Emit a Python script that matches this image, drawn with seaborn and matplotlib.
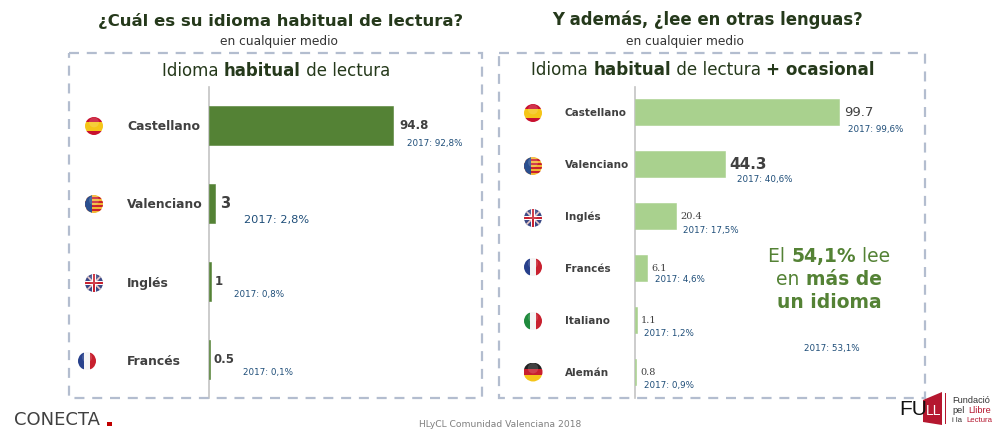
import matplotlib
matplotlib.use('Agg')
import matplotlib.pyplot as plt
from matplotlib.patches import Circle, Polygon, Rectangle
import pandas as pd
import seaborn as sns

# datos
idiomas_hab = ['Castellano', 'Valenciano', 'Inglés', 'Francés']
valores_hab = [94.8, 3, 1, 0.5]
etiq_hab = ['94.8', '3', '1', '0.5']
notas_hab = ['2017: 92,8%', '2017: 2,8%', '2017: 0,8%', '2017: 0,1%']

idiomas_oca = ['Castellano', 'Valenciano', 'Inglés', 'Francés', 'Italiano', 'Alemán']
valores_oca = [99.7, 44.3, 20.4, 6.1, 1.1, 0.8]
etiq_oca = ['99.7', '44.3', '20.4', '6.1', '1.1', '0.8']
notas_oca = ['2017: 99,6%', '2017: 40,6%', '2017: 17,5%', '2017: 4,6%', '2017: 1,2%', '2017: 0,9%']

W, H = 1001, 436
PT = 0.72  # puntos por pixel a dpi 100

VERDE = '#548235'
VERDE_CLARO = '#a9d18e'
TITULO = '#25391b'
GRIS = '#404040'
AZUL = '#1f4e79'
BORDE = '#b3bdcf'
ROJO = '#b5172f'

# ajustes de las etiquetas (dx valor, tamaño, peso, familia, dx nota, dy nota, tamaño nota)
est_hab = [
    (6, 8.5, 'bold', 'DejaVu Sans', 8, 18, 6.3),
    (5, 10.5, 'bold', 'DejaVu Sans', 24, 16, 8.2),
    (4, 8.5, 'bold', 'DejaVu Sans', 19, 13, 6.3),
    (4, 8.5, 'bold', 'DejaVu Sans', 29, 13, 6.3),
]
est_oca = [
    (5, 9.5, 'normal', 'DejaVu Sans', 4, 17, 6.3),
    (4, 11, 'bold', 'DejaVu Sans', 8, 15, 6.3),
    (4, 7, 'normal', 'DejaVu Serif', 3, 14, 6.3),
    (4, 7, 'normal', 'DejaVu Serif', 4, 11, 6.3),
    (4, 7, 'normal', 'DejaVu Serif', 3, 13, 6.3),
    (4, 7, 'normal', 'DejaVu Serif', 4, 13, 6.3),
]

sns.set_theme(style='white')
plt.rcParams['font.family'] = 'DejaVu Sans'

fig = plt.figure(figsize=(W / 100, H / 100), dpi=100, facecolor='white')


def panel(x0, x1, y0, y1):
    return fig.add_axes([x0 / W, 1 - y1 / H, (x1 - x0) / W, (y1 - y0) / H])


def barras(ax, idiomas, valores, etiq, notas, estilos, color, px_unidad, y_cero, paso, pad_px, tam_cat):
    df = pd.DataFrame({'idioma': idiomas, 'valor': valores})
    sns.barplot(data=df, x='valor', y='idioma', ax=ax, color=color, saturation=1, width=0.5)
    for b in ax.patches:
        b.set_edgecolor(color)
        b.set_linewidth(0.4)
    bbox = ax.get_position()
    ancho_px = bbox.width * W
    alto_px = bbox.height * H
    ax.set_xlim(0, ancho_px / px_unidad)
    ax.set_ylim((alto_px - y_cero) / paso, -y_cero / paso)
    ax.set_xlabel('')
    ax.set_ylabel('')
    ax.set_xticks([])
    ax.patch.set_alpha(0)
    for lado in ['top', 'right', 'bottom']:
        ax.spines[lado].set_visible(False)
    ax.spines['left'].set_color('#c4c4c4')
    ax.spines['left'].set_linewidth(1.2)
    ax.spines['left'].set_zorder(0.5)
    ax.tick_params(axis='y', length=0, pad=pad_px * PT)
    for lab in ax.get_yticklabels():
        lab.set_ha('left')
        lab.set_fontweight('bold')
        lab.set_fontsize(tam_cat)
        lab.set_color(GRIS)
    for i, (v, t, n, e) in enumerate(zip(valores, etiq, notas, estilos)):
        dx, tam, peso, fam, ndx, ndy, ntam = e
        ax.annotate(t, xy=(v, i), xytext=(dx * PT, 0), textcoords='offset points',
                    va='center', ha='left', fontsize=tam, fontweight=peso, family=fam, color=GRIS)
        ax.annotate(n, xy=(v, i), xytext=((dx + ndx) * PT, -ndy * PT), textcoords='offset points',
                    va='center', ha='left', fontsize=ntam, color=AZUL)


ax1 = panel(209, 480, 87, 398)
barras(ax1, idiomas_hab, valores_hab, etiq_hab, notas_hab, est_hab, VERDE, 184 / 94.8, 38.5, 78, 82, 8.9)

ax2 = panel(634.5, 900, 87, 398)
barras(ax2, idiomas_oca, valores_oca, etiq_oca, notas_oca, est_oca, VERDE_CLARO, 204.5 / 99.7, 25, 52, 70, 7.5)

# capa en pixeles para marcos, titulos, banderas y logos
ov = fig.add_axes([0, 0, 1, 1], zorder=5)
ov.set_xlim(0, W)
ov.set_ylim(H, 0)
ov.axis('off')


def trozos(xc, y, partes, size, color):
    # texto centrado con partes normales y en negrita
    r = fig.canvas.get_renderer()
    objs = [ov.text(0, y, t, fontsize=size, fontweight=p, color=color, va='center', ha='left')
            for t, p in partes]
    anchos = [o.get_window_extent(r).width for o in objs]
    x = xc - sum(anchos) / 2
    for o, a in zip(objs, anchos):
        o.set_x(x)
        x += a


for x, w in [(69, 413), (499, 426)]:
    ov.add_patch(Rectangle((x, 53), w, 345, fill=False, ec=BORDE, lw=1.6, ls=(0, (4.5, 3.5))))

ov.text(280.5, 21, '¿Cuál es su idioma habitual de lectura?', ha='center', va='center',
        fontsize=11.85, fontweight='bold', color=TITULO)
ov.text(708, 20, 'Y además, ¿lee en otras lenguas?', ha='center', va='center',
        fontsize=11.9, fontweight='bold', color=TITULO)
ov.text(278.5, 41, 'en cualquier medio', ha='center', va='center', fontsize=8.8, color='#333333')
ov.text(685.5, 41, 'en cualquier medio', ha='center', va='center', fontsize=8.8, color='#333333')

trozos(276, 71, [('Idioma ', 'normal'), ('habitual', 'bold'), (' de lectura', 'normal')], 12, TITULO)
trozos(703, 70, [('Idioma ', 'normal'), ('habitual', 'bold'), (' de lectura ', 'normal'), ('+ ocasional', 'bold')], 12.1, TITULO)

trozos(829, 256, [('El ', 'normal'), ('54,1%', 'bold'), (' lee', 'normal')], 13.5, VERDE)
trozos(829, 279, [('en ', 'normal'), ('más de', 'bold')], 13.5, VERDE)
ov.text(829, 302, 'un idioma', ha='center', va='center', fontsize=13.5, fontweight='bold', color=VERDE)
ov.text(832, 348, '2017: 53,1%', ha='center', va='center', fontsize=6.3, color=AZUL)


def bandera(cx, cy, r, tipo):
    clip = Circle((cx, cy), r, transform=ov.transData)
    piezas = []
    if tipo == 'es':
        piezas = [((cx - r, cy - r), 2 * r, r * 0.6, '#c8102e'), ((cx - r, cy - r * 0.45), 2 * r, r, '#f5c518'),
                  ((cx - r, cy + r * 0.55), 2 * r, r * 0.5, '#c8102e')]
    elif tipo == 'va':
        piezas = [((cx - r, cy - r), 2 * r, 2 * r, '#f2b632')]
        for k in range(4):
            piezas.append(((cx - r, cy - r + (k * 2 + 1) * r / 4.5), 2 * r, r / 4.5, '#c8202e'))
        piezas.append(((cx - r, cy - r), r * 0.8, 2 * r, '#2a4f8f'))
    elif tipo == 'uk':
        piezas = [((cx - r, cy - r), 2 * r, 2 * r, '#3b4a86')]
    elif tipo == 'fr':
        piezas = [((cx - r, cy - r), 2 * r / 3, 2 * r, '#27408b'), ((cx - r / 3, cy - r), 2 * r / 3, 2 * r, '#f4f4f4'),
                  ((cx + r / 3, cy - r), 2 * r / 3, 2 * r, '#c8202e')]
    elif tipo == 'it':
        piezas = [((cx - r, cy - r), 2 * r / 3, 2 * r, '#1f8a3d'), ((cx - r / 3, cy - r), 2 * r / 3, 2 * r, '#f4f4f4'),
                  ((cx + r / 3, cy - r), 2 * r / 3, 2 * r, '#c8202e')]
    elif tipo == 'de':
        piezas = [((cx - r, cy - r), 2 * r, 2 * r / 3, '#222222'), ((cx - r, cy - r / 3), 2 * r, 2 * r / 3, '#c8202e'),
                  ((cx - r, cy + r / 3), 2 * r, 2 * r / 3, '#f5c518')]
    for xy, w, h, c in piezas:
        p = Rectangle(xy, w, h, fc=c, ec='none')
        ov.add_patch(p)
        p.set_clip_path(clip)
    if tipo == 'uk':
        for s in (1, -1):
            l, = ov.plot([cx - r, cx + r], [cy - s * r, cy + s * r], color='#e8c8c8', lw=1.2)
            l.set_clip_path(clip)
        for xy, w, h, c in [((cx - r, cy - 1.8), 2 * r, 3.6, 'white'), ((cx - 1.8, cy - r), 3.6, 2 * r, 'white'),
                            ((cx - r, cy - 0.9), 2 * r, 1.8, '#c8202e'), ((cx - 0.9, cy - r), 1.8, 2 * r, '#c8202e')]:
            p = Rectangle(xy, w, h, fc=c, ec='none', zorder=2)
            ov.add_patch(p)
            p.set_clip_path(clip)
    ov.add_patch(Circle((cx, cy - r * 0.4), r * 0.55, fc='white', ec='none', alpha=0.15, zorder=3))


for cx, cy, r, t in [(94, 126, 9, 'es'), (94, 204, 9, 'va'), (94, 283, 9, 'uk'), (87, 361, 9, 'fr'),
                     (533, 113, 9, 'es'), (533, 166, 9, 'va'), (533, 218, 9, 'uk'), (533, 267, 9, 'fr'),
                     (533, 321, 9, 'it'), (533, 372, 9.5, 'de')]:
    bandera(cx, cy, r, t)

# pie y logos
ov.text(500.5, 424, 'HLyCL Comunidad Valenciana 2018', ha='center', va='center', fontsize=6.6, color='#7f7f7f')
ov.text(14, 420, 'CONECTA', ha='left', va='center', fontsize=13, color='#404040')
ov.add_patch(Rectangle((107, 421.5), 4.5, 4, fc='#c00000', ec='none'))

ov.text(899, 409, 'FU', ha='left', va='center', fontsize=15, color='#111111', family='Liberation Sans')
ov.add_patch(Polygon([(923, 400), (942, 392), (942, 425), (923, 422)], fc=ROJO, ec='none'))
ov.text(934, 411, 'LL', ha='center', va='center', fontsize=10, color='white', family='Liberation Sans')
ov.add_patch(Rectangle((945, 393), 1.2, 31, fc=ROJO, ec='none'))
ov.text(952, 400, 'Fundació', ha='left', va='center', fontsize=6.6, color='#333333', family='Liberation Sans')
ov.text(952, 410, 'pel', ha='left', va='center', fontsize=6.6, color='#333333', family='Liberation Sans')
ov.text(968, 410, 'Llibre', ha='left', va='center', fontsize=6.6, color=ROJO, family='Liberation Sans')
ov.text(952, 420, 'i la', ha='left', va='center', fontsize=5.6, color='#333333', family='Liberation Sans')
ov.text(966, 420, 'Lectura', ha='left', va='center', fontsize=5.6, color=ROJO, family='Liberation Sans')

fig.savefig('out.png', dpi=100)
